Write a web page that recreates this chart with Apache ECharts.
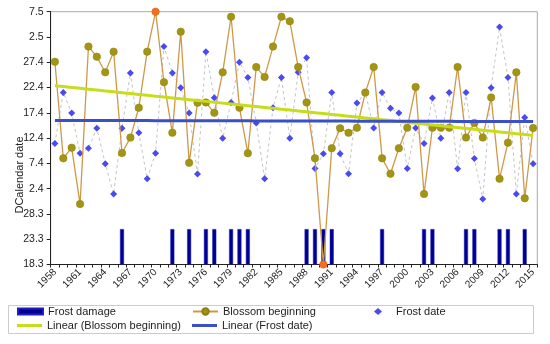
<!DOCTYPE html>
<html>
<head>
<meta charset="utf-8">
<script src="https://cdn.jsdelivr.net/npm/echarts@6/dist/echarts.min.js"></script>
<style>html,body{margin:0;padding:0;background:#fff;}#c{width:550px;height:344px;}</style>
</head>
<body>
<div id="c"></div>
<script>
// ---- data ----
const years = [];
for (let y = 1958; y <= 2015; y++) years.push(String(y));
const yTickLabels = ['18.3','23.3','28.3','2.4','7.4','12.4','17.4','22.4','27.4','2.5','7.5'];
const blossomBeginning = [8.02,4.20,4.62,2.39,8.62,8.22,7.60,8.42,4.41,5.02,
  6.20,8.42,10.0,7.21,5.21,9.21,4.02,6.40,6.41,6.00,
  7.60,9.80,6.20,4.40,7.81,7.42,8.62,9.80,9.62,7.81,
  6.41,4.20,0.00,4.60,5.39,5.21,5.41,6.80,7.81,4.20,
  3.59,4.60,5.41,7.02,2.79,5.41,5.41,5.41,7.81,5.02,
  5.60,5.02,6.61,3.39,4.82,7.60,2.62,5.40];
const frostDate = [4.79,6.80,5.99,4.40,4.60,5.39,3.99,2.79,5.39,7.58,
  5.21,3.39,4.40,8.62,7.58,6.99,5.99,3.58,8.42,6.60,
  4.99,6.41,8.00,7.40,5.60,3.39,6.20,7.40,4.99,7.60,
  8.18,3.80,4.38,6.80,4.38,3.59,6.39,6.80,5.40,6.80,
  6.18,5.99,3.80,5.40,4.79,6.59,4.99,6.80,3.79,6.80,
  4.19,2.59,6.99,9.39,7.40,2.79,5.81,3.99];
const frostDamageYears = [1966,1972,1974,1976,1977,1979,1980,1981,1988,1989,1990,1991,1997,2002,2003,2007,2008,2011,2012,2014];
const frostDamageLevel = 1.4;

// ---- derived ----
function linFit(vals){
  const n = vals.length; let sx=0, sy=0, sxx=0, sxy=0;
  vals.forEach((v,i)=>{sx+=i; sy+=v; sxx+=i*i; sxy+=i*v;});
  const b = (n*sxy - sx*sy)/(n*sxx - sx*sx); const a = (sy - b*sx)/n;
  return vals.map((v,i)=>+(a+b*i).toFixed(4));
}
const damageData = years.map(y => frostDamageYears.includes(+y) ? frostDamageLevel : '-');
const highlightOrange = [1970, 1990];
const blossomData = blossomBeginning.map((v,i)=> highlightOrange.includes(+years[i]) ?
  {value:v, itemStyle:{color:'#f07020', borderColor:'#e06010'}} : v);

const FONT = "'Liberation Sans', Arial, sans-serif";
const chart = echarts.init(document.getElementById('c'), null, {renderer:'canvas'});
const legendBase = {
  itemWidth: 25, itemHeight: 8, itemGap: 0, orient:'horizontal', padding:0,
  textStyle:{fontFamily:FONT, fontSize:11, color:'#222'}
};
chart.setOption({
  animation:false,
  backgroundColor:'#fff',
  grid:{left:50.7, right:12.7, top:11.7, bottom:79.5, show:true, borderColor:'#aaaaaa', borderWidth:1},
  xAxis:{
    type:'category', data:years, boundaryGap:true,
    axisLine:{lineStyle:{color:'#222', width:1}},
    axisTick:{show:true, interval:0, length:3, lineStyle:{color:'#222'}},
    axisLabel:{interval:2, rotate:45, fontFamily:FONT, fontSize:10, color:'#222', margin:6}
  },
  yAxis:{
    type:'value', min:0, max:10, interval:1,
    axisLine:{show:true, lineStyle:{color:'#222', width:1}},
    axisTick:{show:true, length:4, lineStyle:{color:'#222'}},
    splitLine:{show:false},
    axisLabel:{fontFamily:FONT, fontSize:10.5, color:'#222', margin:7,
      formatter:(v)=> yTickLabels[Math.round(v)]}
  },
  graphic:[
    {type:'text', rotation:Math.PI/2, x:20, y:175,
     style:{text:'DCalendar date', font:'11px '+FONT, fill:'#222', textAlign:'center', textVerticalAlign:'middle'}},
    {type:'rect', shape:{x:8.5, y:305.5, width:525, height:28},
     style:{fill:'none', stroke:'#cccccc', lineWidth:1}, z:-1}
  ],
  legend:[
    Object.assign({}, legendBase, {left:17, top:306, itemHeight:6, data:[{name:'Frost damage', icon:'rect'}]}),
    Object.assign({}, legendBase, {left:192, top:306, data:['Blossom beginning']}),
    Object.assign({}, legendBase, {left:374, top:306, itemWidth:8, itemHeight:7,
      textStyle:{fontFamily:FONT, fontSize:11, color:'#222', padding:[0,0,0,9]},
      data:[{name:'Frost date', icon:'diamond'}]}),
    Object.assign({}, legendBase, {left:17, top:320, itemHeight:3, data:[{name:'Linear (Blossom beginning)', icon:'rect'}]}),
    Object.assign({}, legendBase, {left:192, top:320, itemHeight:3, data:[{name:'Linear (Frost date)', icon:'rect'}]})
  ],
  series:[
    {name:'Frost damage', type:'bar', data:damageData, barWidth:4,
     itemStyle:{color:'#000090', borderColor:'#2020c0', borderWidth:0.5}, z:1},
    {name:'Frost date', type:'line', data:frostDate, symbol:'diamond', symbolSize:7, showAllSymbol:true,
     itemStyle:{color:'#4a4af0'}, lineStyle:{color:'#c4c4c4', width:1, type:[3,3]}, z:2},
    {name:'Blossom beginning', type:'line', data:blossomData, symbol:'circle', symbolSize:7.5, showAllSymbol:true,
     itemStyle:{color:'#a39514', borderColor:'#8c800c', borderWidth:0.5},
     lineStyle:{color:'#cf9848', width:1.3}, z:3},
    {name:'Linear (Blossom beginning)', type:'line', data:linFit(blossomBeginning), showSymbol:false, symbol:'none',
     lineStyle:{color:'#c8dc1e', width:3}, itemStyle:{color:'#c8dc1e'}, z:4},
    {name:'Linear (Frost date)', type:'line', data:linFit(frostDate), showSymbol:false, symbol:'none',
     lineStyle:{color:'#3a4fc8', width:3}, itemStyle:{color:'#3a4fc8'}, z:4}
  ]
});
</script>
</body>
</html>
